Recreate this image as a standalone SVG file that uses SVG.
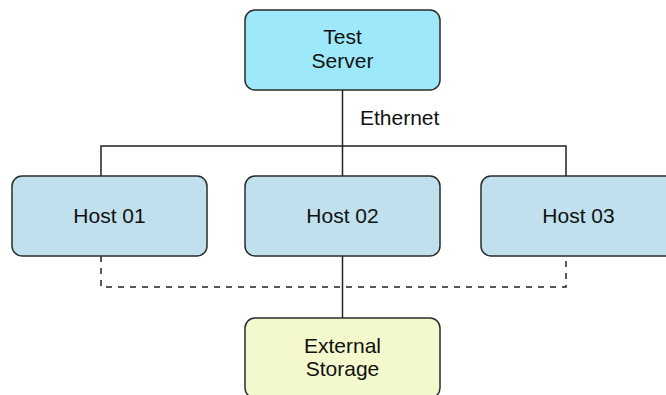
<svg xmlns="http://www.w3.org/2000/svg" width="666" height="395" viewBox="0 0 666 395">
<style>
.box{stroke:#2b2b2b;stroke-width:1.5}
.host{fill:#bfe0ec}
.t{font-family:"Liberation Sans",Arial,sans-serif;font-size:21px;fill:#111;text-anchor:middle}
.ln{stroke:#222;stroke-width:1.5;fill:none}
.dash{stroke-dasharray:6,6}
</style>
<rect width="666" height="395" fill="#fff"/>
<g id="connectors">
<path class="ln" d="M342.5 90 V176 M101 176 V146 H566 V176"/>
<path class="ln" d="M342.5 256 V318"/>
<path class="ln dash" d="M101 256 V287 H566 V256"/>
<text class="t" x="360" y="125" style="text-anchor:start">Ethernet</text>
</g>
<g id="test-server">
<rect class="box" x="245" y="10" width="195" height="80" rx="10" fill="#9de9fb"/>
<text class="t" x="342.5" y="44">Test</text>
<text class="t" x="342.5" y="68">Server</text>
</g>
<g id="host01">
<rect class="box host" x="12" y="176" width="195" height="80" rx="10"/>
<text class="t" x="109.5" y="223">Host 01</text>
</g>
<g id="host02">
<rect class="box host" x="245" y="176" width="195" height="80" rx="10"/>
<text class="t" x="342.5" y="223">Host 02</text>
</g>
<g id="host03">
<rect class="box host" x="481" y="176" width="195" height="80" rx="10"/>
<text class="t" x="578.5" y="223">Host 03</text>
</g>
<g id="external-storage">
<rect class="box" x="245" y="318" width="195" height="80" rx="10" fill="#f4f9cd"/>
<text class="t" x="342.5" y="353">External</text>
<text class="t" x="342.5" y="376">Storage</text>
</g>
</svg>
